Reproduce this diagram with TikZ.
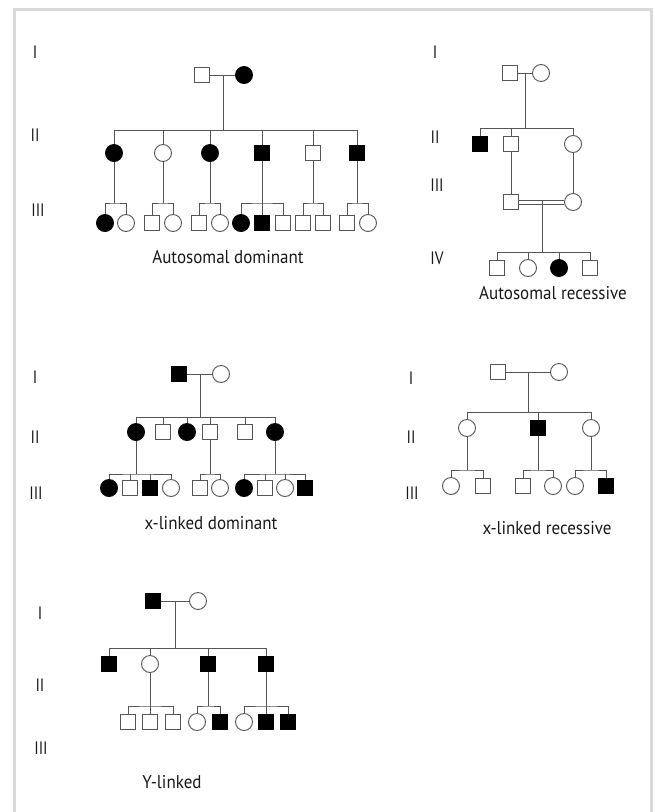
\documentclass[tikz,border=0pt]{standalone}
\usepackage{fontspec}
\setmainfont{PT Sans}
\usepackage{tikz}
\usetikzlibrary{calc}
\usepackage{xcolor}

\definecolor{linegray}{HTML}{555555}
\definecolor{framegray}{HTML}{D9D9D9}

\tikzset{
	male/.style={draw=linegray, fill=white, line width=0.9pt, minimum size=15.5pt, inner sep=0pt},
	female/.style={circle, draw=linegray, fill=white, line width=0.9pt, minimum size=17pt, inner sep=0pt},
	affmale/.style={male, draw=black, fill=black},
	afffemale/.style={female, draw=black, fill=black},
	gen/.style={text=black!90, font=\fontsize{18}{18}\selectfont, xscale=0.85, inner sep=0pt},
	title/.style={text=black!90, font=\fontsize{18.5}{18.5}\selectfont, xscale=0.92, inner sep=0pt},
	rel/.style={draw=linegray, line width=0.9pt}
}

\begin{document}
\begin{tikzpicture}[x=1pt, y=-1pt]
	\useasboundingbox (0,0) rectangle (654,812);
	
	%frame
	\draw[framegray, line width=3pt] (14,812) -- (14,9) -- (651,9) -- (651,812);
	
	%autosomal dominant
	\node[gen] (adg1) at (35,52) {I};
	\node[gen] (adg2) at (35,135) {II};
	\node[gen] (adg3) at (38,210) {III};
	
	\node[male] (ad1) at (202,75) {};
	\node[afffemale] (ad2) at (244,75) {};
	\coordinate (adm) at ($(ad1)!0.5!(ad2)$);
	\coordinate (adl) at (114,130);
	\coordinate (adr) at (357,130);
	\draw[rel] (ad1) -- (ad2);
	\draw[rel] (adm) -- (adm |- adl);
	\draw[rel] (adl) -- (adr);
	
	\node[afffemale] (ad3) at (114,153) {};
	\node[female] (ad4) at (163,153) {};
	\node[afffemale] (ad5) at (210,153) {};
	\node[affmale] (ad6) at (262,153) {};
	\node[male] (ad7) at (313,153) {};
	\node[affmale] (ad8) at (357,153) {};
	\foreach \n in {3,...,8}
		\draw[rel] (ad\n.north) -- (ad\n.north |- adl);
	
	\node[afffemale] (ad9) at (105,223) {};
	\node[female] (ad10) at (126,223) {};
	\node[male] (ad11) at (152,223) {};
	\node[female] (ad12) at (173,223) {};
	\node[male] (ad13) at (199,223) {};
	\node[female] (ad14) at (220,223) {};
	\node[afffemale] (ad15) at (241,223) {};
	\node[affmale] (ad16) at (262,223) {};
	\node[male] (ad17) at (283,223) {};
	\node[male] (ad18) at (303,223) {};
	\node[male] (ad19) at (323,223) {};
	\node[male] (ad20) at (347,223) {};
	\node[female] (ad21) at (368,223) {};
	
	\coordinate (ads1) at (114,203);
	\coordinate (ads2) at (163,203);
	\coordinate (ads3) at (210,203);
	\coordinate (ads4) at (262,203);
	\coordinate (ads5) at (313,203);
	\coordinate (ads6) at (357,203);
	\draw[rel] (ad3) -- (ads1);
	\draw[rel] (ad4) -- (ads2);
	\draw[rel] (ad5) -- (ads3);
	\draw[rel] (ad6) -- (ad16);
	\draw[rel] (ad7) -- (ads5);
	\draw[rel] (ad8) -- (ads6);
	\draw[rel] (ad9.north) |- (ads1) -| (ad10.north);
	\draw[rel] (ad11.north) |- (ads2) -| (ad12.north);
	\draw[rel] (ad13.north) |- (ads3) -| (ad14.north);
	\draw[rel] (ad15.north) |- (ads4) -| (ad17.north);
	\draw[rel] (ad18.north) |- (ads5) -| (ad19.north);
	\draw[rel] (ad20.north) |- (ads6) -| (ad21.north);
	
	\node[title] (adt) at (228,257) {Autosomal dominant};
	
	%autosomal recessive
	\node[gen] (arg1) at (435,52) {I};
	\node[gen] (arg2) at (435,137) {II};
	\node[gen] (arg3) at (437,185) {III};
	\node[gen] (arg4) at (437,258) {IV};
	
	\node[male] (ar1) at (510,73) {};
	\node[female] (ar2) at (541,73) {};
	\coordinate (arm) at ($(ar1)!0.5!(ar2)$);
	\coordinate (arl) at (480,128);
	\coordinate (arr) at (573,128);
	\draw[rel] (ar1) -- (ar2);
	\draw[rel] (arm) -- (arm |- arl);
	\draw[rel] (arl) -- (arr);
	
	\node[affmale] (ar3) at (480,144) {};
	\node[male] (ar4) at (511,144) {};
	\node[female] (ar5) at (573,144) {};
	\foreach \n in {3,4,5}
		\draw[rel] (ar\n.north) -- (ar\n.north |- arl);
	
	\node[male] (ar6) at (511,202) {};
	\node[female] (ar7) at (573,202) {};
	\draw[rel] (ar4) -- (ar6);
	\draw[rel] (ar5) -- (ar7);
	% consanguineous mating
	\draw[rel] ([yshift=-2pt]ar6.east) -- ([yshift=-2pt]ar7.west);
	\draw[rel] ([yshift=2pt]ar6.east) -- ([yshift=2pt]ar7.west);
	
	\coordinate (arn) at ($(ar6)!0.5!(ar7)$);
	\coordinate (arl2) at (497,252);
	\coordinate (arr2) at (590,252);
	\draw[rel] ([yshift=2pt]arn) -- (arn |- arl2);
	\draw[rel] (arl2) -- (arr2);
	
	\node[male] (ar8) at (497,268) {};
	\node[female] (ar9) at (528,268) {};
	\node[afffemale] (ar10) at (559,268) {};
	\node[male] (ar11) at (590,268) {};
	\foreach \n in {8,...,11}
		\draw[rel] (ar\n.north) -- (ar\n.north |- arl2);
	
	\node[title] (art) at (553,293) {Autosomal recessive};
	
	%x-linked dominant
	\node[gen] (xdg1) at (35,377) {I};
	\node[gen] (xdg2) at (35,437) {II};
	\node[gen] (xdg3) at (36,493) {III};
	
	\node[affmale] (xd1) at (179,374) {};
	\node[female] (xd2) at (221,374) {};
	\coordinate (xdm) at ($(xd1)!0.5!(xd2)$);
	\coordinate (xdl) at (136,417);
	\coordinate (xdr) at (275,417);
	\draw[rel] (xd1) -- (xd2);
	\draw[rel] (xdm) -- (xdm |- xdl);
	\draw[rel] (xdl) -- (xdr);
	
	\node[afffemale] (xd3) at (136,432) {};
	\node[male] (xd4) at (163,432) {};
	\node[afffemale] (xd5) at (187,432) {};
	\node[male] (xd6) at (210,432) {};
	\node[male] (xd7) at (245,432) {};
	\node[afffemale] (xd8) at (275,432) {};
	\foreach \n in {3,...,8}
		\draw[rel] (xd\n.north) -- (xd\n.north |- xdl);
	
	\node[afffemale] (xd9) at (109,488) {};
	\node[male] (xd10) at (130,488) {};
	\node[affmale] (xd11) at (150,488) {};
	\node[female] (xd12) at (171,488) {};
	\node[male] (xd13) at (200,488) {};
	\node[female] (xd14) at (220,488) {};
	\node[afffemale] (xd15) at (244,488) {};
	\node[male] (xd16) at (265,488) {};
	\node[female] (xd17) at (285,488) {};
	\node[affmale] (xd18) at (305,488) {};
	
	\coordinate (xds1) at (136,474);
	\coordinate (xds2) at (210,474);
	\coordinate (xds3) at (275,474);
	\draw[rel] (xd3) -- (xds1);
	\draw[rel] (xd6) -- (xds2);
	\draw[rel] (xd8) -- (xds3);
	\draw[rel] (xd9.north) |- (xds1) -| (xd12.north);
	\draw[rel] (xd13.north) |- (xds2) -| (xd14.north);
	\draw[rel] (xd15.north) |- (xds3) -| (xd18.north);
	\foreach \n in {10,11,16,17}
		\draw[rel] (xd\n.north) -- (xd\n.north |- xds1);
	
	\node[title] (xdt) at (211,523) {x-linked dominant};
	
	%x-linked recessive
	\node[gen] (xrg1) at (411,378) {I};
	\node[gen] (xrg2) at (411,437) {II};
	\node[gen] (xrg3) at (412,493) {III};
	
	\node[male] (xr1) at (498,372) {};
	\node[female] (xr2) at (559,372) {};
	\coordinate (xrm) at ($(xr1)!0.5!(xr2)$);
	\coordinate (xrl) at (467,412);
	\coordinate (xrr) at (591,412);
	\draw[rel] (xr1) -- (xr2);
	\draw[rel] (xrm) -- (xrm |- xrl);
	\draw[rel] (xrl) -- (xrr);
	
	\node[female] (xr3) at (467,428) {};
	\node[affmale] (xr4) at (538,428) {};
	\node[female] (xr5) at (591,428) {};
	\foreach \n in {3,4,5}
		\draw[rel] (xr\n.north) -- (xr\n.north |- xrl);
	
	\node[female] (xr6) at (451,486) {};
	\node[male] (xr7) at (483,486) {};
	\node[male] (xr8) at (523,486) {};
	\node[female] (xr9) at (553,486) {};
	\node[female] (xr10) at (575,486) {};
	\node[affmale] (xr11) at (606,486) {};
	
	\coordinate (xrs1) at (467,470);
	\coordinate (xrs2) at (538,470);
	\coordinate (xrs3) at (591,470);
	\draw[rel] (xr3) -- (xrs1);
	\draw[rel] (xr4) -- (xrs2);
	\draw[rel] (xr5) -- (xrs3);
	\draw[rel] (xr6.north) |- (xrs1) -| (xr7.north);
	\draw[rel] (xr8.north) |- (xrs2) -| (xr9.north);
	\draw[rel] (xr10.north) |- (xrs3) -| (xr11.north);
	
	\node[title] (xrt) at (547,528) {x-linked recessive};
	
	%y-linked
	\node[gen] (ylg1) at (40,613) {I};
	\node[gen] (ylg2) at (40,685) {II};
	\node[gen] (ylg3) at (41,748) {III};
	
	\node[affmale] (yl1) at (153,601) {};
	\node[female] (yl2) at (198,601) {};
	\coordinate (ylm) at ($(yl1)!0.5!(yl2)$);
	\coordinate (yll) at (109,648);
	\coordinate (ylr) at (266,648);
	\draw[rel] (yl1) -- (yl2);
	\draw[rel] (ylm) -- (ylm |- yll);
	\draw[rel] (yll) -- (ylr);
	
	\node[affmale] (yl3) at (109,664) {};
	\node[female] (yl4) at (150,664) {};
	\node[affmale] (yl5) at (208,664) {};
	\node[affmale] (yl6) at (266,664) {};
	\foreach \n in {3,...,6}
		\draw[rel] (yl\n.north) -- (yl\n.north |- yll);
	
	\node[male] (yl7) at (128,722) {};
	\node[male] (yl8) at (150,722) {};
	\node[male] (yl9) at (173,722) {};
	\node[female] (yl10) at (197,722) {};
	\node[affmale] (yl11) at (220,722) {};
	\node[female] (yl12) at (244,722) {};
	\node[affmale] (yl13) at (266,722) {};
	\node[affmale] (yl14) at (288,722) {};
	
	\coordinate (yls2) at (208,706);
	\draw[rel] (yl4) -- (yl8);
	\draw[rel] (yl5) -- (yls2);
	\draw[rel] (yl6) -- (yl13);
	\draw[rel] (yl7.north) |- (yl8.north |- yls2) -| (yl9.north);
	\draw[rel] (yl10.north) |- (yls2) -| (yl11.north);
	\draw[rel] (yl12.north) |- (yl13.north |- yls2) -| (yl14.north);
	
	\node[title] (ylt) at (172,782) {Y-linked};
	
\end{tikzpicture}
\end{document}
